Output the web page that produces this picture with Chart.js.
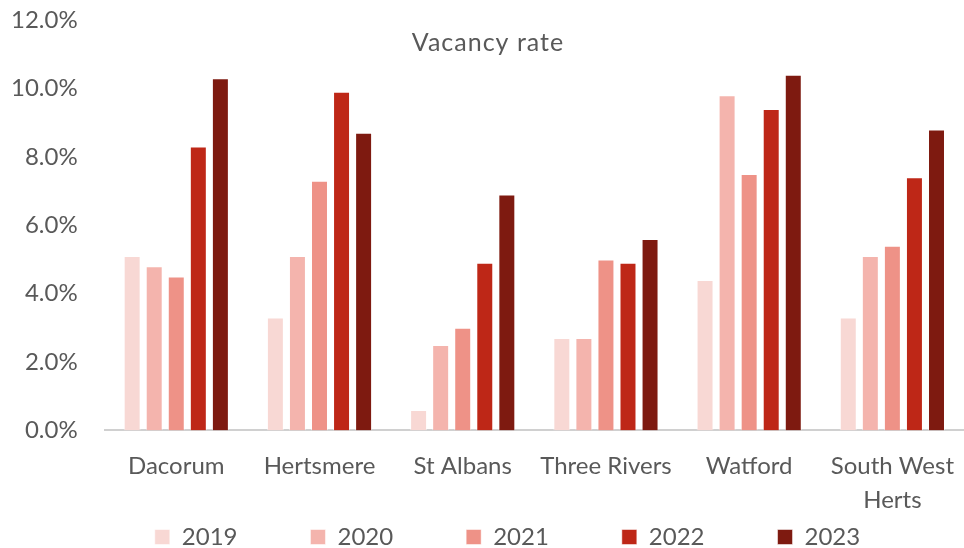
<!DOCTYPE html>
<html>
<head>
<meta charset="utf-8">
<script src="https://cdn.jsdelivr.net/npm/chart.js@4/dist/chart.umd.min.js"></script>
<style>
  html, body { margin: 0; padding: 0; background: #fff; }
  #wrap { width: 964px; height: 548px; }
</style>
</head>
<body>
<div id="wrap"><canvas id="chart" width="964" height="548"></canvas></div>
<script>
const areas = ['Dacorum', 'Hertsmere', 'St Albans', 'Three Rivers', 'Watford', ['South West', 'Herts']];
const years = ['2019', '2020', '2021', '2022', '2023'];
const rate2019 = [5.1, 3.3, 0.6, 2.7, 4.4, 3.3];
const rate2020 = [4.8, 5.1, 2.5, 2.7, 9.8, 5.1];
const rate2021 = [4.5, 7.3, 3.0, 5.0, 7.5, 5.4];
const rate2022 = [8.3, 9.9, 4.9, 4.9, 9.4, 7.4];
const rate2023 = [10.3, 8.7, 6.9, 5.6, 10.4, 8.8];
const colours = ['#F8D8D4', '#F4B4AD', '#EE9287', '#BE2717', '#7E1A10'];

const font = "'Lato', 'Open Sans', sans-serif";
const grey = '#595959';

// title sits inside the plot area, like the original
const titlePlugin = {
    id: 'innerTitle',
    afterDraw(chart) {
        const ctx = chart.ctx;
        ctx.save();
        ctx.font = `25px ${font}`;
        ctx.letterSpacing = '1px';
        ctx.fillStyle = grey;
        ctx.textAlign = 'center';
        ctx.textBaseline = 'middle';
        ctx.fillText('Vacancy rate', chart.width / 2 + 6, 43);
        ctx.restore();
    }
};

// legend in the original is centred a bit right of the canvas middle
const legendShift = {
    id: 'legendShift',
    afterLayout(chart) {
        chart.legend.left += 20;
        chart.legend.right += 20;
    }
};

const series = [rate2019, rate2020, rate2021, rate2022, rate2023];

new Chart(document.getElementById('chart'), {
    type: 'bar',
    data: {
        labels: areas,
        datasets: series.map((values, i) => ({
            label: years[i],
            data: values,
            backgroundColor: colours[i],
            borderColor: 'rgba(255,255,255,0.5)',
            borderWidth: 1,
            categoryPercentage: 0.77,
            barPercentage: 0.77
        }))
    },
    options: {
        responsive: false,
        animation: false,
        layout: { padding: { top: 6, left: 11, right: 0, bottom: 0 } },
        scales: {
            x: {
                grid: { display: false, drawTicks: false },
                border: { display: true, color: '#D0D0D0', width: 2 },
                ticks: {
                    color: grey,
                    font: { family: font, size: 24, lineHeight: 1.45 },
                    padding: 18,
                    maxRotation: 0,
                    autoSkip: false
                },
                // chart.js counts the tick padding twice; trim the extra
                afterFit(scale) {
                    scale.paddingLeft = 0;
                    scale.paddingRight = 0;
                    scale.height -= 12;
                }
            },
            y: {
                min: 0,
                max: 12,
                grid: { display: false, drawTicks: false },
                border: { display: false },
                ticks: {
                    stepSize: 2,
                    color: grey,
                    padding: 27,
                    font: { family: font, size: 24 },
                    callback: v => v.toFixed(1) + '%'
                },
                afterFit(scale) {
                    scale.width -= 27;
                    scale.paddingTop = 20;
                    scale.paddingBottom = 14;
                }
            }
        },
        plugins: {
            legend: {
                position: 'bottom',
                maxHeight: 24,
                labels: {
                    color: grey,
                    font: { family: font, size: 24 },
                    boxWidth: 15,
                    boxHeight: 15,
                    padding: 1,
                    // widen each entry so the items spread out like the original
                    generateLabels(chart) {
                        const items = Chart.defaults.plugins.legend.labels.generateLabels(chart);
                        return items.map((item, i) => {
                            if (i < items.length - 1) item.text = item.text + '\u2003\u2003\u2003\u2003';
                            return item;
                        });
                    }
                }
            },
            tooltip: { enabled: false }
        }
    },
    plugins: [titlePlugin, legendShift]
});
</script>
</body>
</html>
